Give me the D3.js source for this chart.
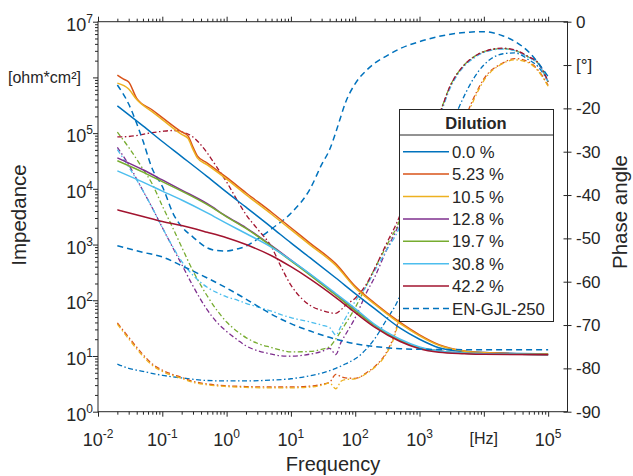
<!DOCTYPE html>
<meta charset="utf-8">
<style>
    body { margin: 0; background: #fff; }
    text { font-family: "Liberation Sans", Arial, sans-serif; fill: #262626; }
    .axis line, .axis path { stroke: #262626; }
</style>
<svg width="633" height="476"></svg>
<script src="https://d3js.org/d3.v7.min.js"></script>
<script>
    // legend entries / colours
    var dilutions = ["0.0 %", "5.23 %", "10.5 %", "12.8 %", "19.7 %", "30.8 %", "42.2 %", "EN-GJL-250"];
    var colors = ["#0072BD", "#D95319", "#EDB120", "#7E2F8E", "#77AC30", "#4DBEEE", "#A2142F", "#0072BD"];

    // tick values
    var xMajor = [1e-2, 1e-1, 1e0, 1e1, 1e2, 1e3, 1e4, 1e5];
    var zMajor = [1e0, 1e1, 1e2, 1e3, 1e4, 1e5, 1e6, 1e7];
    var phaseTicks = [0, -10, -20, -30, -40, -50, -60, -70, -80, -90];

    // impedance [Hz, ohm*cm2]
    var imp00 = [[0.02, 3.09e5], [0.05, 1.35e5], [0.1, 7.08e4], [0.2, 3.8e4], [0.5, 1.66e4], [1, 8.71e3], [2, 4.68e3],
        [5, 2.04e3], [10, 1.07e3], [20, 575], [50, 251], [100, 132], [200, 70.8], [500, 31.6], [1000, 20],
        [2000, 14.1], [5000, 12.0], [1e4, 11.5], [1e5, 11.0]];
    var imp523 = [[0.02, 1.10e6], [0.025, 9.3e5], [0.03, 8.3e5], [0.04, 4.2e5], [0.07, 2.6e5], [0.1, 1.9e5], [0.2, 1.05e5],
        [0.25, 9.0e4], [0.3, 5.6e4], [0.35, 3.9e4], [0.5, 2.9e4], [1, 1.6e4], [2, 8.5e3], [5, 3.8e3], [10, 2.0e3],
        [20, 1.05e3], [50, 450], [100, 178], [200, 89], [500, 40], [1000, 24], [2000, 16], [5000, 12.3], [1e4, 11.5], [1e5, 10.7]];
    var imp105 = [[0.02, 7.9e5], [0.03, 6.2e5], [0.04, 4.0e5], [0.07, 2.4e5], [0.1, 1.75e5], [0.2, 9.5e4], [0.25, 8.1e4],
        [0.3, 5.1e4], [0.35, 3.6e4], [0.5, 2.7e4], [1, 1.5e4], [2, 7.9e3], [5, 3.5e3], [10, 1.85e3], [20, 980],
        [50, 420], [100, 168], [200, 85], [500, 38], [1000, 23], [2000, 15.5], [5000, 12.2], [1e4, 11.4], [1e5, 10.7]];
    var imp128 = [[0.02, 3.6e4], [0.05, 2.2e4], [0.1, 1.45e4], [0.2, 9.5e3], [0.5, 5.4e3], [1, 3.2e3], [2, 2.0e3],
        [5, 955], [10, 525], [20, 290], [50, 126], [100, 66], [200, 35.5], [500, 19], [1000, 14.1], [2000, 12.3],
        [5000, 11.2], [1e4, 11.0], [1e5, 10.5]];
    var imp197 = [[0.02, 3.2e4], [0.05, 2.0e4], [0.1, 1.35e4], [0.2, 9.1e3], [0.5, 5.2e3], [1, 3.15e3], [2, 1.95e3],
        [5, 930], [10, 510], [20, 280], [50, 123], [100, 65], [200, 35.5], [500, 19], [1000, 14.1], [2000, 12.3],
        [5000, 11.2], [1e4, 11.0], [1e5, 10.5]];
    var imp308 = [[0.02, 2.1e4], [0.05, 1.32e4], [0.1, 9.1e3], [0.2, 6.3e3], [0.5, 3.7e3], [1, 2.4e3], [2, 1.58e3],
        [5, 890], [10, 525], [20, 295], [50, 132], [100, 71], [200, 37], [500, 20], [1000, 14.5], [2000, 12.3],
        [5000, 11.2], [1e4, 11.0], [1e5, 10.5]];
    var imp422 = [[0.02, 4.2e3], [0.05, 3.2e3], [0.1, 2.6e3], [0.2, 2.2e3], [0.5, 1.66e3], [1, 1.32e3], [2, 1.0e3],
        [5, 630], [10, 400], [20, 240], [50, 112], [100, 60], [200, 33], [500, 18.2], [1000, 13.5], [2000, 11.7],
        [5000, 11.0], [1e4, 10.7], [1e5, 10.5]];
    var impEN = [[0.02, 955], [0.05, 725], [0.1, 600], [0.2, 417], [0.5, 251], [1, 166], [2, 105], [5, 56], [10, 38],
        [20, 28], [50, 20], [100, 16.6], [200, 14.8], [500, 13.5], [1000, 13.2], [5000, 13.0], [1e5, 12.9]];

    // phase angle [Hz, degree]
    var ph00 = [[0.02, -79], [0.03, -80], [0.05, -80.7], [0.1, -81.6], [0.2, -82.2], [0.5, -82.8], [1, -82.9], [2, -82.9],
        [5, -82.7], [10, -82.4], [20, -81.7], [30, -81.1], [50, -80], [70, -79], [100, -77.8], [150, -75.5], [200, -73.2],
        [300, -69], [500, -63], [700, -55.5], [1000, -46.5], [1500, -36.5], [2000, -30.5], [3000, -24.5], [5000, -17],
        [7000, -13], [1e4, -10], [2e4, -7.4], [3e4, -7.2], [5e4, -8.8], [7e4, -10.4], [1e5, -13.8]];
    var ph523 = [[0.02, -69.5], [0.03, -72.8], [0.05, -76.8], [0.07, -79], [0.1, -80.4], [0.2, -82.1], [0.3, -83], [0.5, -83.6],
        [1, -84], [2, -84.2], [5, -84.3], [10, -84.3], [20, -84.1], [30, -83.7], [40, -83.2], [50, -81.4], [60, -81.9],
        [70, -82.2], [100, -82.3], [150, -81], [200, -79.6], [300, -76.5], [400, -72.5], [500, -67.5], [700, -60],
        [1000, -50], [1500, -41], [2000, -35.5], [3000, -29], [5000, -22.5], [7000, -17.5], [1e4, -13.2], [2e4, -9.5],
        [3e4, -8.5], [5e4, -9.3], [7e4, -11.2], [1e5, -14.7]];
    var ph105 = [[0.02, -69.8], [0.03, -73.2], [0.05, -77.2], [0.07, -79.3], [0.1, -80.7], [0.2, -82.3], [0.3, -83.2], [0.5, -83.8],
        [1, -84.2], [2, -84.4], [5, -84.5], [10, -84.5], [20, -84.3], [30, -83.9], [40, -83.4], [50, -84.7], [60, -83],
        [70, -82.6], [100, -82.4], [150, -81.2], [200, -79.8], [300, -76.8], [400, -73], [500, -68], [700, -61],
        [1000, -51], [1500, -42], [2000, -36.5], [3000, -30], [5000, -23.2], [7000, -18], [1e4, -13.6], [2e4, -9.6],
        [3e4, -8.8], [5e4, -9.5], [7e4, -11.4], [1e5, -14.9]];
    var ph128 = [[0.02, -29], [0.03, -33], [0.05, -39], [0.07, -43], [0.1, -47.5], [0.15, -52.5], [0.2, -56], [0.3, -61],
        [0.5, -66.5], [0.7, -69.3], [1, -71.5], [1.5, -73.5], [2, -74.8], [3, -75.9], [5, -76.7], [7, -77.1], [10, -77.2],
        [20, -76.7], [30, -76.1], [40, -75.4], [50, -76.8], [60, -74], [70, -72.3], [100, -68.3], [150, -62.5], [200, -59],
        [300, -53], [500, -46], [700, -39.5], [1000, -32.5], [1500, -26], [2000, -22], [3000, -15], [5000, -10],
        [7000, -8.2], [1e4, -7], [2e4, -6.2], [3e4, -6.6], [5e4, -8.2], [7e4, -9.6], [1e5, -13.9]];
    var ph197 = [[0.02, -25.5], [0.03, -29], [0.05, -34], [0.07, -37.5], [0.1, -42.5], [0.15, -48], [0.2, -52], [0.3, -57.5],
        [0.5, -63.3], [0.7, -66.5], [1, -69.3], [1.5, -71.6], [2, -72.9], [3, -74.2], [5, -75.2], [7, -75.8], [10, -76.2],
        [20, -76.1], [30, -75.6], [40, -75], [50, -73.2], [60, -71.4], [70, -69.8], [100, -66], [150, -60.8], [200, -57],
        [300, -52], [500, -45.5], [700, -39], [1000, -32], [1500, -25.5], [2000, -21.5], [3000, -14.8], [5000, -9.9],
        [7000, -8.1], [1e4, -6.9], [2e4, -6.2], [3e4, -6.6], [5e4, -8.2], [7e4, -9.6], [1e5, -13.9]];
    var ph308 = [[0.02, -29.5], [0.03, -33.5], [0.05, -39], [0.07, -43], [0.1, -47.5], [0.15, -52.3], [0.2, -55.3], [0.3, -58.5],
        [0.5, -61.3], [0.7, -62.5], [1, -63.5], [1.5, -64.3], [2, -65], [3, -65.8], [5, -66.8], [7, -67.6], [10, -68.3],
        [20, -69.3], [30, -70], [40, -70.6], [50, -72.3], [60, -70.3], [70, -68.5], [100, -64.5], [150, -61], [200, -57.5],
        [300, -53], [500, -47], [700, -40], [1000, -33], [1500, -26.5], [2000, -22.3], [3000, -15.3], [5000, -10.2],
        [7000, -8.4], [1e4, -7.1], [2e4, -6.3], [3e4, -6.7], [5e4, -8.3], [7e4, -9.7], [1e5, -14]];
    var ph422 = [[0.02, -26.6], [0.03, -26.5], [0.05, -26], [0.07, -25.6], [0.1, -25.3], [0.15, -25.1], [0.2, -25.4], [0.3, -26.6],
        [0.5, -30.3], [0.7, -33.5], [1, -37], [1.5, -41.5], [2, -44.5], [3, -47.8], [5, -52], [7, -56.5], [10, -60.8],
        [15, -64], [20, -65.5], [30, -66.6], [40, -67.1], [50, -67.3], [60, -66.5], [70, -65.5], [100, -63.8], [150, -60.5],
        [200, -57], [300, -51.5], [500, -44.5], [700, -38], [1000, -31.5], [1500, -25], [2000, -21.5], [3000, -14.8],
        [5000, -9.9], [7000, -8.1], [1e4, -6.9], [2e4, -6.1], [3e4, -6.5], [5e4, -8.1], [7e4, -9.5], [1e5, -13.8]];
    var phEN = [[0.02, -14.6], [0.03, -19], [0.04, -23.5], [0.05, -27.5], [0.07, -34], [0.1, -38], [0.15, -44.5], [0.2, -47.3],
        [0.3, -49.7], [0.5, -52.2], [0.7, -52.8], [1, -52.9], [1.5, -52.4], [2, -51.8], [3, -50.2], [5, -47.8], [10, -44.2],
        [20, -38.5], [30, -33], [40, -29.5], [50, -25.5], [60, -21.8], [70, -18.8], [100, -14.3], [150, -11.2], [200, -9.6],
        [300, -8], [500, -6.2], [1000, -4.6], [2000, -3.4], [5000, -2.5], [1e4, -2.3], [2e4, -3.3], [3e4, -4.5],
        [5e4, -7], [7e4, -9.5], [1e5, -12.7]];

    var impedances = [imp00, imp523, imp105, imp128, imp197, imp308, imp422, impEN];
    var phases = [ph00, ph523, ph105, ph128, ph197, ph308, ph422, phEN];

    var plotL = 98, plotR = 567.5, plotT = 21.7, plotB = 411.7;
    var svg = d3.select("svg");

    var x = d3.scaleLog().domain([1e-2, 2e5]).range([plotL, plotR]);
    var yZ = d3.scaleLog().domain([1, 1e7]).range([plotB, plotT]);
    var yP = d3.scaleLinear().domain([-90, 0]).range([plotB, plotT]);

    var xMinor = [], zMinor = [];
    for (var e = -2; e < 5; e++) for (var k = 2; k <= 9; k++) xMinor.push(k * Math.pow(10, e));
    for (var e2 = 0; e2 < 7; e2++) for (var k2 = 2; k2 <= 9; k2++) zMinor.push(k2 * Math.pow(10, e2));

    svg.append("clipPath").attr("id", "plot")
        .append("rect").attr("x", plotL).attr("y", plotT).attr("width", plotR - plotL).attr("height", plotB - plotT);

    var plot = svg.append("g").attr("clip-path", "url(#plot)");

    // phase curves (dash-dot)
    phases.forEach(function (d, i) {
        var line = d3.line()
            .x(function (p) { return x(p[0]); })
            .y(function (p) { return yP(p[1]); })
            .curve(d3.curveMonotoneX);
        plot.append("path")
            .attr("d", line(d))
            .attr("fill", "none")
            .attr("stroke", colors[i])
            .attr("stroke-width", i === 7 ? 1.5 : 1.3)
            .attr("stroke-dasharray", i === 7 ? "6,4" : "5,2.5,1.5,2.5");
    });

    // impedance curves
    impedances.forEach(function (d, i) {
        var line = d3.line()
            .x(function (p) { return x(p[0]); })
            .y(function (p) { return yZ(p[1]); })
            .curve(d3.curveMonotoneX);
        plot.append("path")
            .attr("d", line(d))
            .attr("fill", "none")
            .attr("stroke", colors[i])
            .attr("stroke-width", 1.5)
            .attr("stroke-dasharray", i === 7 ? "6,4" : null);
    });

    // frame
    svg.append("rect")
        .attr("x", plotL).attr("y", plotT).attr("width", plotR - plotL).attr("height", plotB - plotT)
        .attr("fill", "none").attr("stroke", "#262626");

    function noDomain(g) { g.select(".domain").remove(); }

    svg.append("g").attr("class", "axis").attr("transform", "translate(0," + plotB + ")")
        .call(d3.axisBottom(x).tickValues(xMajor).tickSize(5).tickFormat("")).call(noDomain);
    svg.append("g").attr("class", "axis").attr("transform", "translate(0," + plotB + ")")
        .call(d3.axisBottom(x).tickValues(xMinor).tickSize(3).tickFormat("")).call(noDomain);
    svg.append("g").attr("class", "axis").attr("transform", "translate(0," + plotT + ")")
        .call(d3.axisTop(x).tickValues(xMajor).tickSize(5).tickFormat("")).call(noDomain);
    svg.append("g").attr("class", "axis").attr("transform", "translate(0," + plotT + ")")
        .call(d3.axisTop(x).tickValues(xMinor).tickSize(3).tickFormat("")).call(noDomain);
    svg.append("g").attr("class", "axis").attr("transform", "translate(" + plotL + ",0)")
        .call(d3.axisLeft(yZ).tickValues(zMajor).tickSize(5).tickFormat("")).call(noDomain);
    svg.append("g").attr("class", "axis").attr("transform", "translate(" + plotL + ",0)")
        .call(d3.axisLeft(yZ).tickValues(zMinor).tickSize(3).tickFormat("")).call(noDomain);
    svg.append("g").attr("class", "axis").attr("transform", "translate(" + plotR + ",0)")
        .call(d3.axisRight(yP).tickValues(phaseTicks).tickSize(4).tickFormat("")).call(noDomain);
    svg.append("g").attr("class", "axis").attr("transform", "translate(" + plotR + ",0)")
        .call(d3.axisLeft(yP).tickValues(phaseTicks).tickSize(4).tickFormat("")).call(noDomain);

    // tick labels
    function power(t, d) {
        t.append("tspan").text("10");
        t.append("tspan").attr("dy", -8).style("font-size", "12px").text(Math.round(Math.log10(d)));
    }

    svg.append("g").selectAll("text").data(xMajor).join("text")
        .attr("x", function (d) { return x(d); })
        .attr("y", 446)
        .attr("text-anchor", "middle")
        .style("font-size", "18px")
        .each(function (d) {
            var t = d3.select(this);
            if (d === 1e4) t.style("font-size", "16px").attr("y", 444).text("[Hz]");
            else power(t, d);
        });

    svg.append("g").selectAll("text").data(zMajor).join("text")
        .attr("x", 93)
        .attr("y", function (d) { return yZ(d) + 9; })
        .attr("text-anchor", "end")
        .style("font-size", "18px")
        .each(function (d) {
            var t = d3.select(this);
            if (d === 1e6) t.attr("x", 8).attr("y", yZ(d) + 6).attr("text-anchor", "start")
                .style("font-size", "16px").text("[ohm*cm²]");
            else power(t, d);
        });

    svg.append("g").selectAll("text").data(phaseTicks).join("text")
        .attr("x", 576)
        .attr("y", function (d) { return yP(d) + 6; })
        .style("font-size", "17px")
        .text(function (d) { return d === -10 ? "[°]" : d; });

    // axis titles
    svg.append("text").attr("transform", "translate(26,215) rotate(-90)")
        .attr("text-anchor", "middle").style("font-size", "20.5px").text("Impedance");
    svg.append("text").attr("transform", "translate(627,212) rotate(-90)")
        .attr("text-anchor", "middle").style("font-size", "20.5px").text("Phase angle");
    svg.append("text").attr("x", 333).attr("y", 471)
        .attr("text-anchor", "middle").style("font-size", "20px").text("Frequency");

    // legend
    var legend = svg.append("g");
    legend.append("rect")
        .attr("x", 399.5).attr("y", 109.5).attr("width", 154).attr("height", 212)
        .attr("fill", "#fff").attr("stroke", "#262626");
    legend.append("line")
        .attr("x1", 399.5).attr("x2", 553.5).attr("y1", 135).attr("y2", 135)
        .attr("stroke", "#262626");
    legend.append("text").attr("x", 476).attr("y", 129)
        .attr("text-anchor", "middle").style("font-size", "16.5px").style("font-weight", "bold")
        .text("Dilution");

    var entry = legend.selectAll("g.entry").data(dilutions).join("g")
        .attr("class", "entry")
        .attr("transform", function (d, i) { return "translate(0," + (151.7 + i * 22.4) + ")"; });
    entry.append("line")
        .attr("x1", 403).attr("x2", 449)
        .attr("stroke", function (d, i) { return colors[i]; })
        .attr("stroke-width", 1.5)
        .attr("stroke-dasharray", function (d, i) { return i === 7 ? "6,4" : null; });
    entry.append("text")
        .attr("x", 452).attr("y", 6)
        .style("font-size", "16.7px")
        .text(function (d) { return d; });
</script>
